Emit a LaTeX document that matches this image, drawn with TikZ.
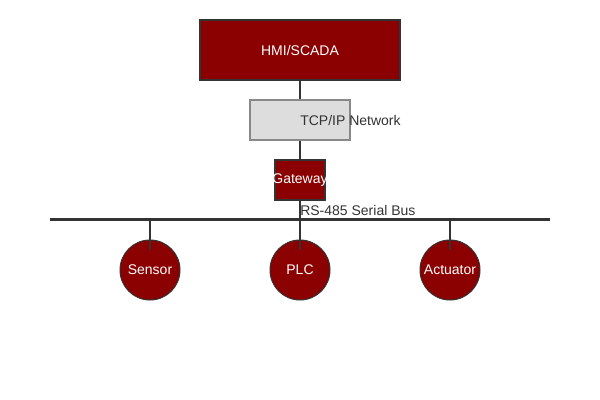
\documentclass[tikz,border=0pt]{standalone}
\usepackage{fontspec}
\setmainfont{Liberation Sans}
\definecolor{plantred}{HTML}{8B0000}
\definecolor{ink}{HTML}{333333}
\definecolor{netgray}{HTML}{DDDDDD}
\definecolor{netedge}{HTML}{888888}
\begin{document}
\begin{tikzpicture}[x=0.75pt,y=-0.75pt,
  font=\fontsize{10.5}{12}\selectfont,
  redbox/.style={draw=ink,line width=1.5pt,fill=plantred,inner sep=0pt},
  netbox/.style={draw=netedge,line width=1.1pt,fill=netgray,inner sep=0pt},
  device/.style={circle,draw=ink,line width=0.75pt,fill=plantred,inner sep=0pt,minimum size=45pt,text=white},
  wire/.style={draw=ink,line width=1.5pt},
  buswire/.style={draw=ink,line width=2.2pt},
  caption/.style={text=ink,inner sep=0pt,anchor=west},
  whitetext/.style={text=white,inner sep=0pt}]
\useasboundingbox (0,0) rectangle (600,400);

% upper level: supervisory system, network, gateway
\node[redbox,minimum width=150pt,minimum height=45pt] (hmi) at (300,50) {};
\node[whitetext] at (hmi.center) {HMI/SCADA};
\node[netbox,minimum width=75pt,minimum height=30pt] (net) at (300,120) {};
\node[caption] (netlabel) at (300,120) {TCP/IP Network};
\node[redbox,minimum width=37.5pt,minimum height=30pt] (gw) at (300,180) {};
\node[whitetext] at (gw.center) {Gateway};

% field devices
\node[device] (sensor) at (150,270) {Sensor};
\node[device] (plc) at (300,270) {PLC};
\node[device] (act) at (450,270) {Actuator};

% serial bus
\coordinate (busL) at (50,219.5);
\coordinate (busR) at (550,219.5);
\draw[buswire] (busL) -- (busR);
\node[caption] (buslabel) at (300,210) {RS-485 Serial Bus};

% connections
\draw[wire] (hmi.south) -- (net.north);
\draw[wire] (net.south) -- (gw.north);
\draw[wire,shorten >=15pt] (gw.south) -- (plc.center);
\draw[wire,shorten >=15pt] (sensor |- busL) -- (sensor.center);
\draw[wire,shorten >=15pt] (act |- busL) -- (act.center);
\end{tikzpicture}
\end{document}
